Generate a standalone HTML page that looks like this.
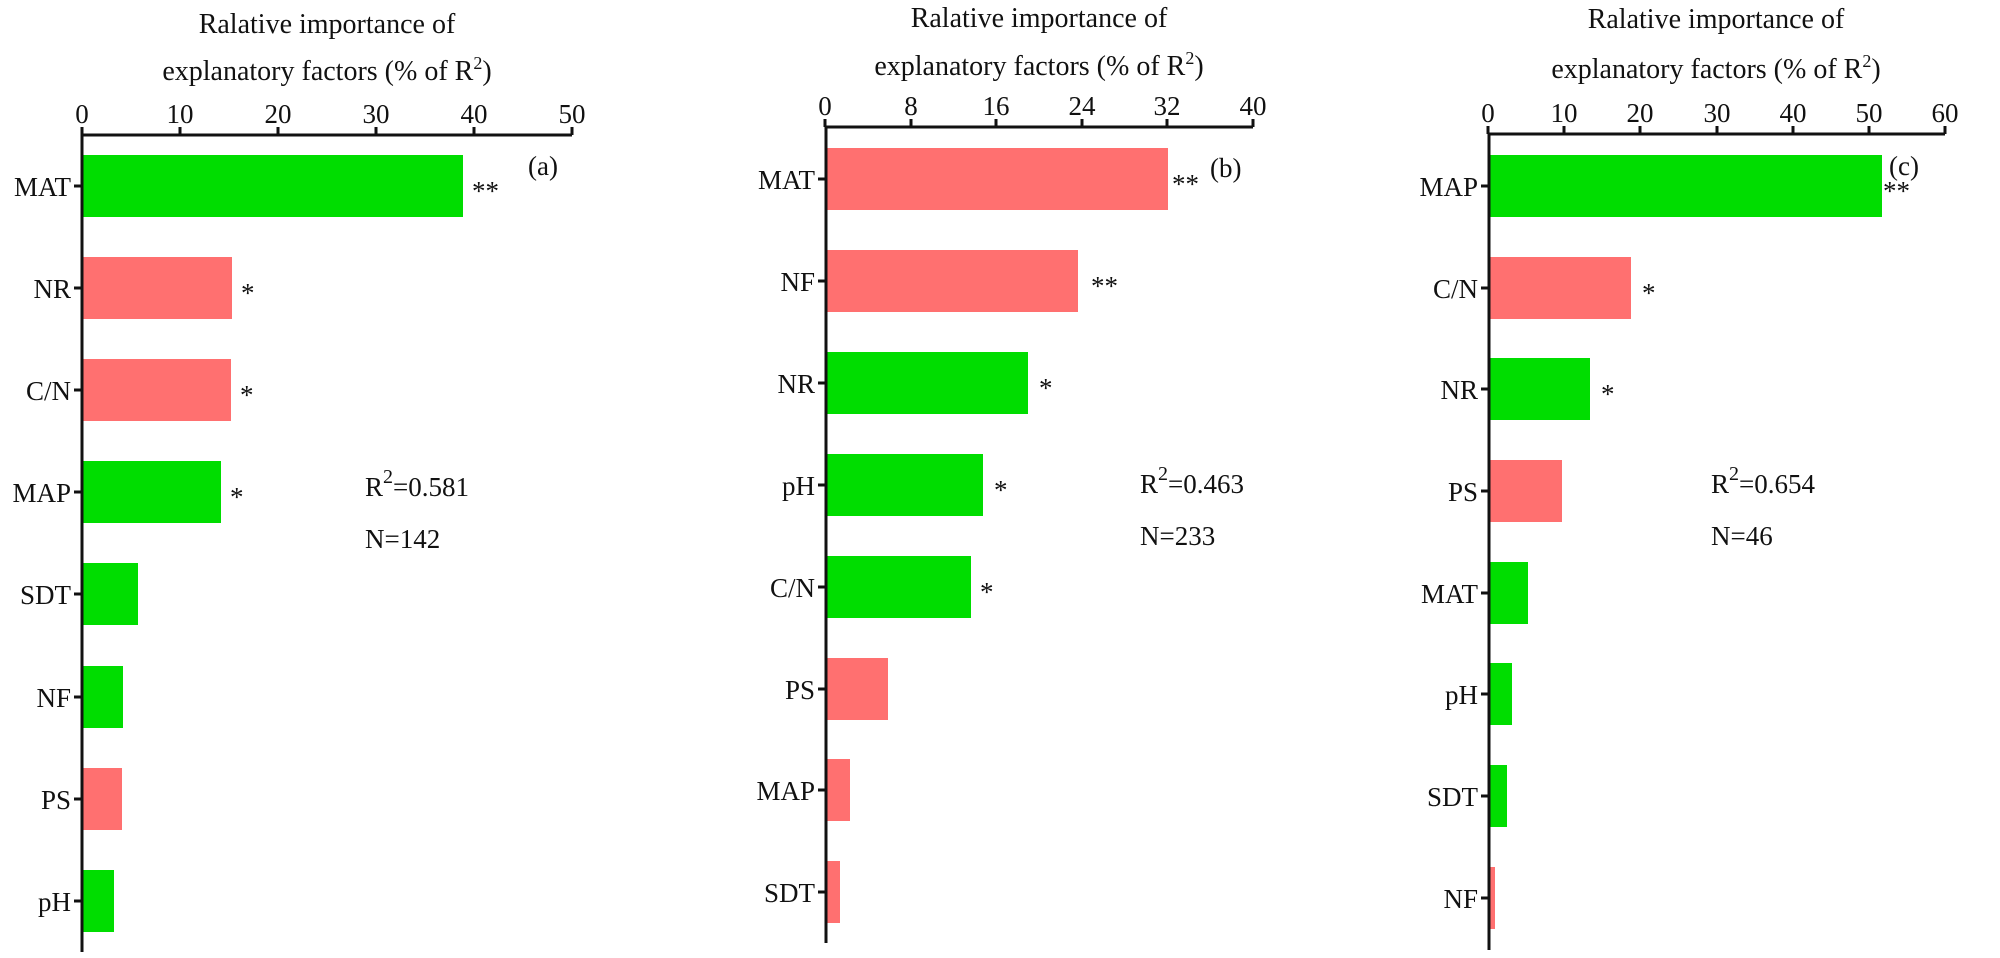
<!DOCTYPE html>
<html><head><meta charset="utf-8"><style>
html,body{margin:0;padding:0;background:#fff}
svg{display:block}
svg text, svg tspan{font-family:"Liberation Serif","DejaVu Serif",serif !important;fill:#111}
.t{font-size:28px;text-anchor:middle}
.k{font-size:27px;text-anchor:middle}
.c{font-size:27px;text-anchor:end}
.s{font-size:27px}
.g{fill:#00DD00}.r{fill:#FF7070}
line{stroke:#111;stroke-width:3}
</style></head><body>
<svg width="2000" height="958" viewBox="0 0 2000 958" font-family="Liberation Serif, serif">
<!-- Panel a -->
<text class="t" x="327" y="33">Ralative importance of</text>
<text class="t" x="327" y="80">explanatory factors (% of R<tspan dy="-11" font-size="18">2</tspan><tspan dy="11">)</tspan></text>
<text class="k" x="82" y="123">0</text><text class="k" x="180" y="123">10</text><text class="k" x="278" y="123">20</text><text class="k" x="376" y="123">30</text><text class="k" x="474" y="123">40</text><text class="k" x="572" y="123">50</text>
<line x1="82" y1="135" x2="572" y2="135"/>
<line x1="82" y1="127" x2="82" y2="135"/><line x1="180" y1="127" x2="180" y2="135"/><line x1="278" y1="127" x2="278" y2="135"/><line x1="376" y1="127" x2="376" y2="135"/><line x1="474" y1="127" x2="474" y2="135"/><line x1="572" y1="127" x2="572" y2="135"/>
<rect class="g" x="83" y="155" width="380" height="62"/>
<rect class="r" x="83" y="257" width="149" height="62"/>
<rect class="r" x="83" y="359" width="148" height="62"/>
<rect class="g" x="83" y="461" width="138" height="62"/>
<rect class="g" x="83" y="563" width="55" height="62"/>
<rect class="g" x="83" y="666" width="40" height="62"/>
<rect class="r" x="83" y="768" width="39" height="62"/>
<rect class="g" x="83" y="870" width="31" height="62"/>
<line x1="82" y1="134" x2="82" y2="952"/>
<line x1="74" y1="186" x2="82" y2="186"/><line x1="74" y1="288" x2="82" y2="288"/><line x1="74" y1="390" x2="82" y2="390"/><line x1="74" y1="492" x2="82" y2="492"/><line x1="74" y1="594" x2="82" y2="594"/><line x1="74" y1="697" x2="82" y2="697"/><line x1="74" y1="799" x2="82" y2="799"/><line x1="74" y1="901" x2="82" y2="901"/>
<text class="c" x="71" y="196">MAT</text><text class="c" x="71" y="298">NR</text><text class="c" x="71" y="400">C/N</text><text class="c" x="71" y="502">MAP</text><text class="c" x="71" y="604">SDT</text><text class="c" x="71" y="707">NF</text><text class="c" x="71" y="809">PS</text><text class="c" x="71" y="911">pH</text>
<text class="s" x="472" y="200">**</text><text class="s" x="241" y="302">*</text><text class="s" x="240" y="404">*</text><text class="s" x="230" y="506">*</text>
<text class="s" x="528" y="175" font-size="30">(a)</text>
<text class="s" x="365" y="496" font-size="30">R<tspan dy="-13" font-size="20">2</tspan><tspan dy="13">=0.581</tspan></text>
<text class="s" x="365" y="548" font-size="30">N=142</text>

<!-- Panel b -->
<text class="t" x="1039" y="27">Ralative importance of</text>
<text class="t" x="1039" y="75">explanatory factors (% of R<tspan dy="-11" font-size="18">2</tspan><tspan dy="11">)</tspan></text>
<text class="k" x="825" y="115">0</text><text class="k" x="911" y="115">8</text><text class="k" x="996" y="115">16</text><text class="k" x="1082" y="115">24</text><text class="k" x="1167" y="115">32</text><text class="k" x="1253" y="115">40</text>
<line x1="825" y1="127" x2="1253" y2="127"/>
<line x1="825" y1="119" x2="825" y2="127"/><line x1="911" y1="119" x2="911" y2="127"/><line x1="996" y1="119" x2="996" y2="127"/><line x1="1082" y1="119" x2="1082" y2="127"/><line x1="1167" y1="119" x2="1167" y2="127"/><line x1="1253" y1="119" x2="1253" y2="127"/>
<rect class="r" x="826" y="148" width="342" height="62"/>
<rect class="r" x="826" y="250" width="252" height="62"/>
<rect class="g" x="826" y="352" width="202" height="62"/>
<rect class="g" x="826" y="454" width="157" height="62"/>
<rect class="g" x="826" y="556" width="145" height="62"/>
<rect class="r" x="826" y="658" width="62" height="62"/>
<rect class="r" x="826" y="759" width="24" height="62"/>
<rect class="r" x="826" y="861" width="14" height="62"/>
<line x1="826" y1="126" x2="826" y2="943"/>
<line x1="818" y1="179" x2="826" y2="179"/><line x1="818" y1="281" x2="826" y2="281"/><line x1="818" y1="383" x2="826" y2="383"/><line x1="818" y1="485" x2="826" y2="485"/><line x1="818" y1="587" x2="826" y2="587"/><line x1="818" y1="689" x2="826" y2="689"/><line x1="818" y1="790" x2="826" y2="790"/><line x1="818" y1="892" x2="826" y2="892"/>
<text class="c" x="815" y="189">MAT</text><text class="c" x="815" y="291">NF</text><text class="c" x="815" y="393">NR</text><text class="c" x="815" y="495">pH</text><text class="c" x="815" y="597">C/N</text><text class="c" x="815" y="699">PS</text><text class="c" x="815" y="800">MAP</text><text class="c" x="815" y="902">SDT</text>
<text class="s" x="1172" y="193">**</text><text class="s" x="1091" y="295">**</text><text class="s" x="1039" y="397">*</text><text class="s" x="994" y="499">*</text><text class="s" x="980" y="601">*</text>
<text class="s" x="1210" y="177" font-size="30">(b)</text>
<text class="s" x="1140" y="493" font-size="30">R<tspan dy="-13" font-size="20">2</tspan><tspan dy="13">=0.463</tspan></text>
<text class="s" x="1140" y="545" font-size="30">N=233</text>

<!-- Panel c -->
<text class="t" x="1716" y="28">Ralative importance of</text>
<text class="t" x="1716" y="78">explanatory factors (% of R<tspan dy="-11" font-size="18">2</tspan><tspan dy="11">)</tspan></text>
<text class="k" x="1488" y="122">0</text><text class="k" x="1564" y="122">10</text><text class="k" x="1640" y="122">20</text><text class="k" x="1717" y="122">30</text><text class="k" x="1793" y="122">40</text><text class="k" x="1869" y="122">50</text><text class="k" x="1945" y="122">60</text>
<line x1="1488" y1="134" x2="1945" y2="134"/>
<line x1="1488" y1="126" x2="1488" y2="134"/><line x1="1564" y1="126" x2="1564" y2="134"/><line x1="1640" y1="126" x2="1640" y2="134"/><line x1="1717" y1="126" x2="1717" y2="134"/><line x1="1793" y1="126" x2="1793" y2="134"/><line x1="1869" y1="126" x2="1869" y2="134"/><line x1="1945" y1="126" x2="1945" y2="134"/>
<rect class="g" x="1489" y="155" width="393" height="62"/>
<rect class="r" x="1489" y="257" width="142" height="62"/>
<rect class="g" x="1489" y="358" width="101" height="62"/>
<rect class="r" x="1489" y="460" width="73" height="62"/>
<rect class="g" x="1489" y="562" width="39" height="62"/>
<rect class="g" x="1489" y="663" width="23" height="62"/>
<rect class="g" x="1489" y="765" width="18" height="62"/>
<rect class="r" x="1489" y="867" width="6" height="62"/>
<line x1="1489" y1="133" x2="1489" y2="950"/>
<line x1="1481" y1="186" x2="1489" y2="186"/><line x1="1481" y1="288" x2="1489" y2="288"/><line x1="1481" y1="389" x2="1489" y2="389"/><line x1="1481" y1="491" x2="1489" y2="491"/><line x1="1481" y1="593" x2="1489" y2="593"/><line x1="1481" y1="694" x2="1489" y2="694"/><line x1="1481" y1="796" x2="1489" y2="796"/><line x1="1481" y1="898" x2="1489" y2="898"/>
<text class="c" x="1478" y="196">MAP</text><text class="c" x="1478" y="298">C/N</text><text class="c" x="1478" y="399">NR</text><text class="c" x="1478" y="501">PS</text><text class="c" x="1478" y="603">MAT</text><text class="c" x="1478" y="704">pH</text><text class="c" x="1478" y="806">SDT</text><text class="c" x="1478" y="908">NF</text>
<text class="s" x="1883" y="200">**</text><text class="s" x="1642" y="302">*</text><text class="s" x="1601" y="403">*</text>
<text class="s" x="1889" y="175" font-size="30">(c)</text>
<text class="s" x="1711" y="493" font-size="30">R<tspan dy="-13" font-size="20">2</tspan><tspan dy="13">=0.654</tspan></text>
<text class="s" x="1711" y="545" font-size="30">N=46</text>
</svg>
</body></html>
